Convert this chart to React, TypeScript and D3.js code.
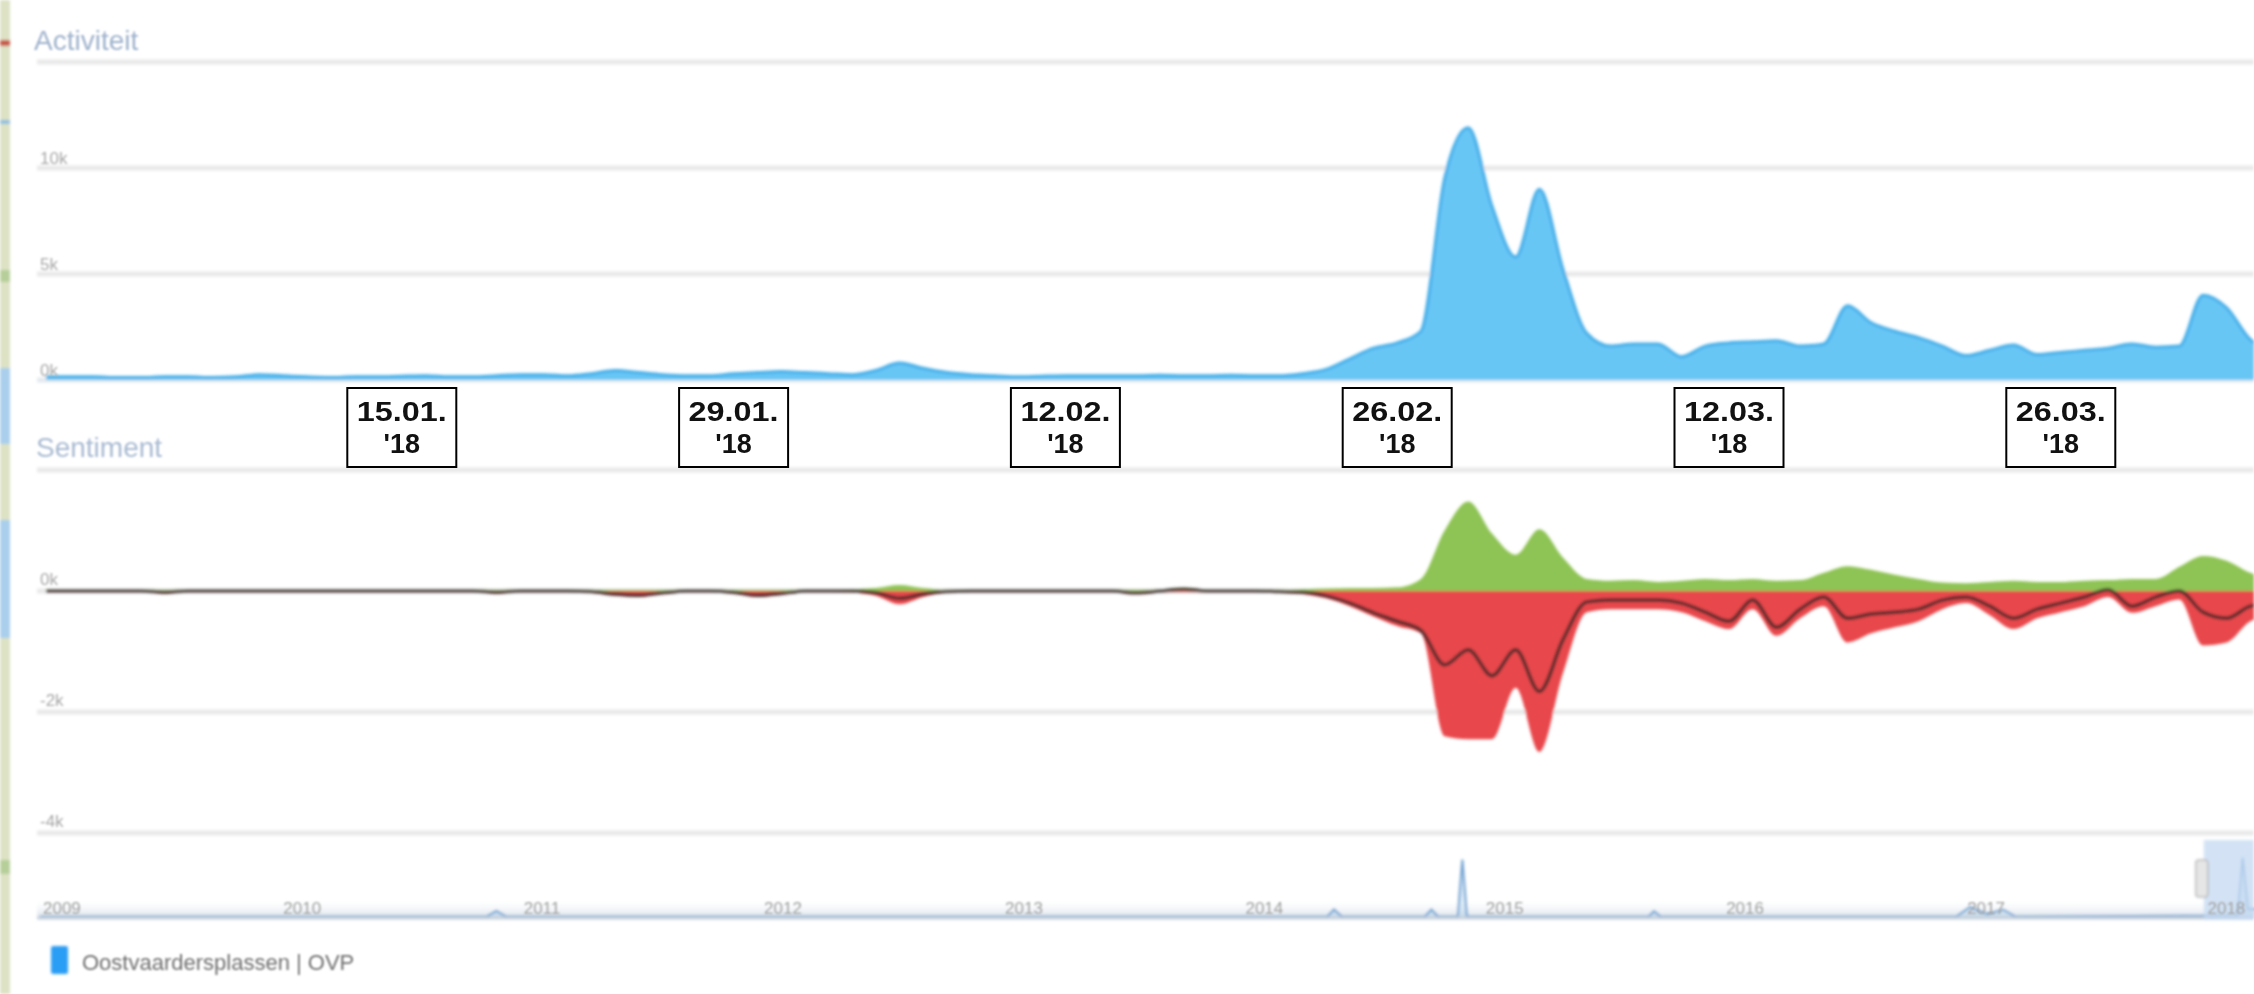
import React from "react";
import * as d3 from "d3";

const W = 2254;
const H = 994;

// daily series, first value = 31 Dec 2017
const seriesStart = "2017-12-31";
const activity = [
  0.15, 0.15, 0.15, 0.12, 0.12, 0.15, 0.15, 0.12, 0.15, 0.25,
  0.2, 0.15, 0.12, 0.15, 0.15, 0.18, 0.2, 0.15, 0.15, 0.2,
  0.25, 0.25, 0.2, 0.3, 0.45, 0.35, 0.25, 0.2, 0.2, 0.3,
  0.35, 0.4, 0.35, 0.3, 0.25, 0.45, 0.8, 0.55, 0.35, 0.25,
  0.2, 0.15, 0.18, 0.2, 0.2, 0.2, 0.2, 0.22, 0.2, 0.2,
  0.22, 0.2, 0.2, 0.3, 0.5, 1.0, 1.5, 1.75, 2.3, 9.5,
  11.9, 8.2, 5.8, 9.0, 5.2, 2.2, 1.6, 1.7, 1.7, 1.1,
  1.6, 1.75, 1.8, 1.85, 1.6, 1.7, 3.5, 2.7, 2.3, 2.0,
  1.6, 1.15, 1.4, 1.65, 1.2, 1.3, 1.4, 1.5, 1.7, 1.55,
  1.6, 4.0, 3.4, 1.9, 1.4,
];
const sentimentPositive = [
  0.02, 0.02, 0.02, 0.02, 0.02, 0.02, 0.02, 0.02, 0.02, 0.02,
  0.02, 0.02, 0.02, 0.02, 0.02, 0.02, 0.02, 0.02, 0.02, 0.02,
  0.02, 0.02, 0.02, 0.02, 0.02, 0.02, 0.02, 0.02, 0.02, 0.02,
  0.02, 0.02, 0.02, 0.02, 0.03, 0.05, 0.1, 0.05, 0.02, 0.02,
  0.02, 0.02, 0.02, 0.02, 0.02, 0.02, 0.02, 0.02, 0.05, 0.02,
  0.02, 0.02, 0.02, 0.03, 0.04, 0.05, 0.05, 0.06, 0.2, 1.0,
  1.48, 0.95, 0.6, 1.02, 0.55, 0.2, 0.17, 0.18, 0.15, 0.17,
  0.2, 0.18, 0.2, 0.17, 0.18, 0.3, 0.41, 0.35, 0.27, 0.2,
  0.14, 0.13, 0.15, 0.17, 0.15, 0.15, 0.17, 0.18, 0.2, 0.2,
  0.4, 0.58, 0.5, 0.3, 0.2,
];
const sentimentNegative = [
  -0.02, -0.02, -0.02, -0.02, -0.02, -0.04, -0.02, -0.02, -0.02, -0.02,
  -0.02, -0.02, -0.02, -0.02, -0.02, -0.02, -0.02, -0.02, -0.02, -0.04,
  -0.02, -0.02, -0.02, -0.03, -0.08, -0.1, -0.05, -0.02, -0.02, -0.04,
  -0.1, -0.06, -0.02, -0.02, -0.03, -0.08, -0.22, -0.1, -0.03, -0.02,
  -0.02, -0.02, -0.02, -0.02, -0.02, -0.02, -0.05, -0.02, -0.02, -0.02,
  -0.02, -0.02, -0.03, -0.05, -0.12, -0.25, -0.42, -0.58, -0.7, -2.4,
  -2.45, -2.45, -1.6, -2.66, -1.35, -0.35, -0.3, -0.3, -0.3, -0.35,
  -0.5, -0.63, -0.3, -0.74, -0.45, -0.25, -0.85, -0.7, -0.6, -0.5,
  -0.3, -0.2, -0.4, -0.63, -0.45, -0.35, -0.25, -0.1, -0.36, -0.25,
  -0.14, -0.9, -0.85, -0.5, -0.4,
];
const sentimentNet = [
  0, 0, 0, 0, 0, -0.02, 0, 0, 0, 0,
  0, 0, 0, 0, 0, 0, 0, 0, 0, -0.02,
  0, 0, 0, -0.01, -0.05, -0.07, -0.03, 0, 0, -0.02,
  -0.07, -0.04, 0, 0, 0, -0.03, -0.12, -0.05, -0.01, 0,
  0, 0, 0, 0, 0, 0, -0.03, 0, 0.03, 0,
  0, 0, -0.01, -0.02, -0.08, -0.2, -0.36, -0.5, -0.65, -1.22,
  -0.97, -1.4, -0.97, -1.66, -0.8, -0.18, -0.15, -0.15, -0.15, -0.2,
  -0.35, -0.5, -0.15, -0.6, -0.3, -0.1, -0.45, -0.38, -0.35, -0.3,
  -0.15, -0.1, -0.25, -0.45, -0.3, -0.2, -0.1, 0.02, -0.25, -0.1,
  0.0, -0.35, -0.45, -0.25, -0.2,
];

const activityTicks = [0, 5, 10, 15];
const activityTickLabels = ["0k", "5k", "10k", ""];
const sentimentTicks = [-4, -2, 0, 2];
const sentimentTickLabels = ["-4k", "-2k", "0k", ""];

const annotationDates = ["2018-01-15", "2018-01-29", "2018-02-12", "2018-02-26", "2018-03-12", "2018-03-26"];
const annotationLines = [
  ["15.01.", "'18"],
  ["29.01.", "'18"],
  ["12.02.", "'18"],
  ["26.02.", "'18"],
  ["12.03.", "'18"],
  ["26.03.", "'18"],
];

const navigatorYears = [2009, 2010, 2011, 2012, 2013, 2014, 2015, 2016, 2017, 2018];
const navigatorDates = [
  "2009-01-01", "2010-11-10", "2010-11-25", "2010-12-10", "2014-05-10", "2014-05-20", "2014-06-01",
  "2014-10-05", "2014-10-15", "2014-10-25", "2014-11-24", "2014-12-01", "2014-12-08",
  "2015-09-10", "2015-09-18", "2015-09-28", "2016-12-20", "2017-01-10", "2017-02-05",
  "2017-03-01", "2017-03-20", "2018-02-20", "2018-02-28", "2018-03-08", "2018-04-10",
];
const navigatorValues = [
  0.1, 0.1, 1.2, 0.1, 0.1, 1.5, 0.1,
  0.1, 1.5, 0.1, 0.1, 11.5, 0.1,
  0.1, 1.2, 0.1, 0.1, 2.0, 0.6,
  1.5, 0.1, 0.3, 11.9, 1.6, 1.6,
];

const titleActivity = "Activiteit";
const titleSentiment = "Sentiment";
const legendLabel = "Oostvaardersplassen | OVP";

const FONT = "'Liberation Sans', Arial, Helvetica, sans-serif";

export default function App() {
  const start = d3.utcParse("%Y-%m-%d")(seriesStart) as Date;
  const dates = activity.map((_, i) => d3.utcDay.offset(start, i));
  const parse = d3.utcParse("%Y-%m-%d");

  const x = d3
    .scaleUtc()
    .domain([new Date(Date.UTC(2018, 0, 1)), new Date(Date.UTC(2018, 3, 1))])
    .range([70, 2203]);
  const yA = d3.scaleLinear().domain([0, 15]).range([380, 62]);
  const yS = d3.scaleLinear().domain([-4, 2]).range([833, 470]);
  const navX = d3
    .scaleUtc()
    .domain([new Date(Date.UTC(2009, 0, 1)), new Date(Date.UTC(2018, 0, 1))])
    .range([40, 2204.5]);
  const navY = d3.scaleLinear().domain([0, 12]).range([917, 857]);

  const curve = d3.curveMonotoneX;
  const activityArea = d3
    .area<number>()
    .x((_, i) => x(dates[i]))
    .y0(yA(0))
    .y1((d) => yA(d))
    .curve(curve)(activity) as string;
  const activityLine = d3
    .line<number>()
    .x((_, i) => x(dates[i]))
    .y((d) => yA(d))
    .curve(curve)(activity) as string;
  const posArea = d3
    .area<number>()
    .x((_, i) => x(dates[i]))
    .y0(yS(0))
    .y1((d) => yS(d))
    .curve(curve)(sentimentPositive) as string;
  const negArea = d3
    .area<number>()
    .x((_, i) => x(dates[i]))
    .y0(yS(0))
    .y1((d) => yS(d))
    .curve(curve)(sentimentNegative) as string;
  const netLine = d3
    .line<number>()
    .x((_, i) => x(dates[i]))
    .y((d) => yS(d))
    .curve(curve)(sentimentNet) as string;

  const navDates = navigatorDates.map((s) => parse(s) as Date);
  const navArea = d3
    .area<number>()
    .x((_, i) => navX(navDates[i]))
    .y0(navY(0))
    .y1((d) => navY(d))(navigatorValues) as string;
  const navLine = d3
    .line<number>()
    .x((_, i) => navX(navDates[i]))
    .y((d) => navY(d))(navigatorValues) as string;

  const selStart = navX(dates[0]);

  return (
    <div style={{ position: "absolute", left: 0, top: 0, width: W, height: H, overflow: "hidden", background: "#fff" }}>
      <svg width={W} height={H} viewBox={`0 0 ${W} ${H}`} style={{ display: "block" }}>
        <defs>
          <filter id="soft" filterUnits="userSpaceOnUse" x={0} y={0} width={W} height={H}>
            <feGaussianBlur stdDeviation={1.7} />
          </filter>
          <filter id="softText" filterUnits="userSpaceOnUse" x={0} y={0} width={W} height={H}>
            <feGaussianBlur stdDeviation={1.3} />
          </filter>
          <clipPath id="plotClip">
            <rect x={37} y={0} width={W - 37} height={H} />
          </clipPath>
          <linearGradient id="navShade" x1="0" x2="0" y1="0" y2="1">
            <stop offset="0%" stopColor="#ffffff" stopOpacity={0} />
            <stop offset="100%" stopColor="#d9e1ea" stopOpacity={1} />
          </linearGradient>
        </defs>

        <rect x={0} y={0} width={W} height={H} fill="#ffffff" />

        {/* map strip at the left edge */}
        <g filter="url(#soft)">
          <rect x={0} y={0} width={10} height={H} fill="#dde2c4" />
          <rect x={0} y={368} width={10} height={76} fill="#a9cfec" />
          <rect x={0} y={520} width={10} height={118} fill="#a9cfec" />
          <rect x={0} y={40} width={10} height={6} fill="#c85a4a" />
          <rect x={0} y={120} width={10} height={4} fill="#8fbfe0" />
          <rect x={0} y={270} width={10} height={12} fill="#b6cf9a" />
          <rect x={0} y={860} width={10} height={14} fill="#b6cf9a" />
        </g>

        <g filter="url(#soft)">
          {/* gridlines */}
          {activityTicks.map((t) => (
            <line key={"ga" + t} x1={37} x2={W} y1={yA(t)} y2={yA(t)} stroke={t === 0 ? "#e4e9ee" : "#e9e9e9"} strokeWidth={5} />
          ))}
          {sentimentTicks.map((t) => (
            <line key={"gs" + t} x1={37} x2={W} y1={yS(t)} y2={yS(t)} stroke="#e9e9e9" strokeWidth={5} />
          ))}

          {/* activity series */}
          <g clipPath="url(#plotClip)">
            <path d={activityArea} fill="#68c6f5" />
            <path d={activityLine} fill="none" stroke="#45ade8" strokeWidth={3} />
          </g>

          {/* sentiment series */}
          <g clipPath="url(#plotClip)">
            <path d={posArea} fill="#8ec355" />
            <path d={negArea} fill="#e8474b" />
            <path d={netLine} fill="none" stroke="#2b2222" strokeOpacity={0.8} strokeWidth={3.5} />
          </g>

          {/* navigator */}
          <rect x={37} y={898} width={W - 37} height={20} fill="url(#navShade)" />
          <path d={navArea} fill="#7fb6e2" fillOpacity={0.25} />
          <path d={navLine} fill="none" stroke="#6f9fcf" strokeWidth={2} />
          <line x1={37} x2={W} y1={918} y2={918} stroke="#c6d0dc" strokeWidth={3} />
          <rect x={selStart} y={840} width={W - selStart} height={80} fill="#c4daf2" fillOpacity={0.75} />
          <rect x={selStart - 8} y={860} width={12} height={37} rx={3} fill="#e6e6e6" stroke="#b9b9b9" strokeWidth={1.5} />

          {/* legend */}
          <rect x={51} y={946} width={17} height={28} rx={2} fill="#2a9df4" />
        </g>

        <g filter="url(#softText)" fontFamily={FONT}>
          <text x={34} y={50} fontSize={28} fill="#9fb2cc">{titleActivity}</text>
          <text x={36} y={457} fontSize={28} fill="#a9bad2">{titleSentiment}</text>
          {activityTicks.map((t, i) =>
            activityTickLabels[i] ? (
              <text key={"la" + t} x={40} y={yA(t) - 4} fontSize={17} fill="#a8a8a8">{activityTickLabels[i]}</text>
            ) : null
          )}
          {sentimentTicks.map((t, i) =>
            sentimentTickLabels[i] ? (
              <text key={"ls" + t} x={40} y={yS(t) - 6} fontSize={17} fill="#a8a8a8">{sentimentTickLabels[i]}</text>
            ) : null
          )}
          {navigatorYears.map((yr) => (
            <text key={"ny" + yr} x={navX(new Date(Date.UTC(yr, 0, 1))) + 3} y={914} fontSize={17} fill="#a0a0a0">
              {String(yr)}
            </text>
          ))}
          <text x={82} y={970} fontSize={22} fill="#707070">{legendLabel}</text>
        </g>

        {/* date annotation boxes */}
        <g fontFamily={FONT} fontWeight="bold">
          {annotationDates.map((s, i) => {
            const cx = x(parse(s) as Date);
            return (
              <g key={s}>
                <rect x={cx - 54.5} y={388} width={109} height={79} fill="#ffffff" stroke="#000" strokeWidth={2} />
                <text x={cx} y={421} fontSize={27} textAnchor="middle" fill="#111" textLength={90} lengthAdjust="spacingAndGlyphs">
                  {annotationLines[i][0]}
                </text>
                <text x={cx} y={453} fontSize={27} textAnchor="middle" fill="#111">
                  {annotationLines[i][1]}
                </text>
              </g>
            );
          })}
        </g>
      </svg>
    </div>
  );
}
